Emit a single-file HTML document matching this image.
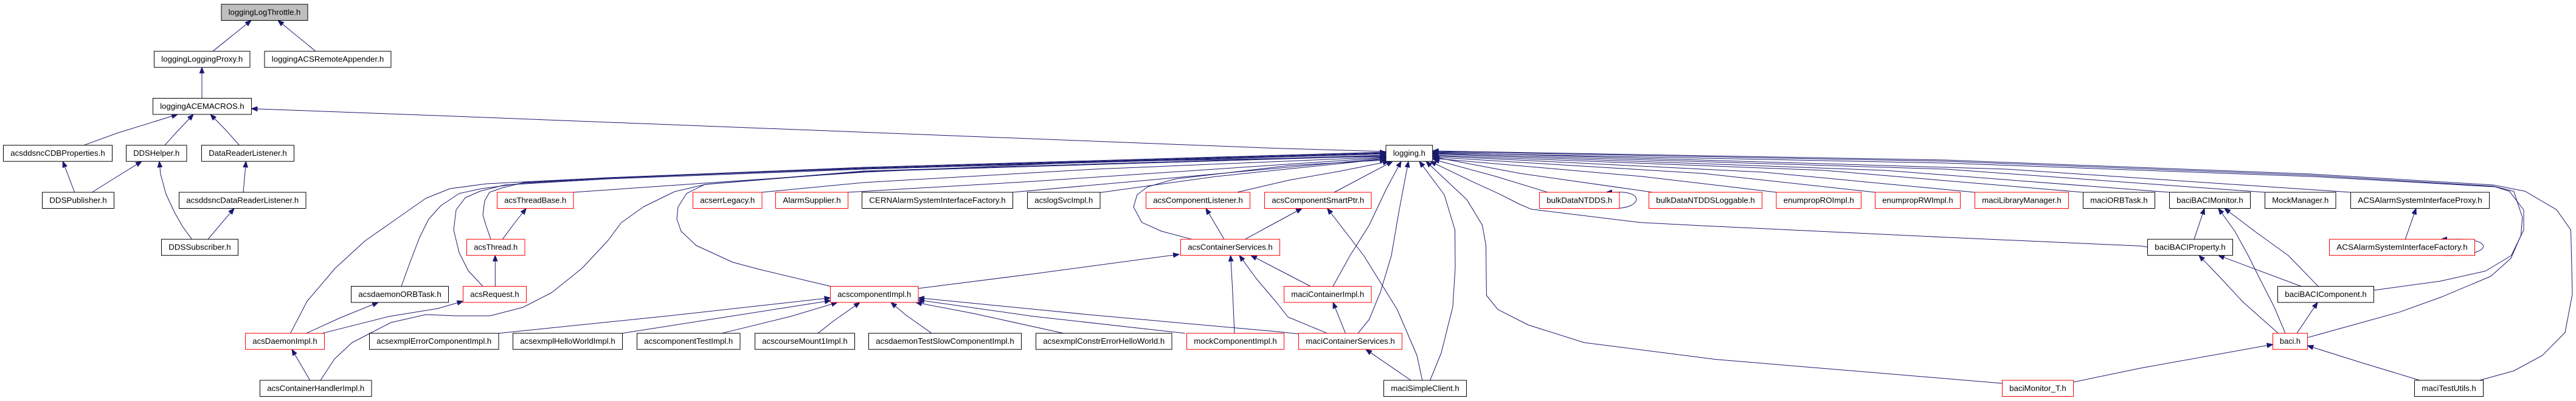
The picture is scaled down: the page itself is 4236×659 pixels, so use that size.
<!DOCTYPE html>
<html><head><meta charset="utf-8"><style>
html,body{margin:0;padding:0;background:#fff;}
svg{display:block;}
.e{fill:none;stroke:#191970;stroke-width:1;marker-end:url(#a);stroke-linejoin:round;}
.n{fill:#fff;stroke:#000;stroke-width:1;}
.r{fill:#fff;stroke:#ff0000;stroke-width:1;}
.g{fill:#bfbfbf;stroke:#000;stroke-width:1;}
text{font-family:"Liberation Sans",Arial,sans-serif;font-size:13px;fill:#000;text-anchor:middle;}
</style></head><body>
<svg width="4236" height="659" viewBox="0 0 4236 659" xmlns="http://www.w3.org/2000/svg">
<defs><marker id="a" markerUnits="userSpaceOnUse" markerWidth="12" markerHeight="10" refX="10" refY="4.5" orient="auto"><path d="M0.5,0.8 L10,4.5 L0.5,8.2 z" fill="#191970" stroke="#191970" stroke-width="1"/></marker></defs>
<rect width="4236" height="659" fill="#fff"/>
<!-- edges -->
<polyline class="e" points="350,84.2 413,33.5"/>
<polyline class="e" points="519,84.2 457,33.5"/>
<polyline class="e" points="332,161.5 332,110.7"/>
<polyline class="e" points="2279,249 2100,243.8 1400,216.5 720,190 413.5,178.6"/>
<polyline class="e" points="138,238.7 193,218.6 248,201.7 292,188"/>
<polyline class="e" points="271,238.7 289,218.6 318,188"/>
<polyline class="e" points="393.5,238.7 372,214.4 346,188"/>
<polyline class="e" points="122.6,316 103.3,265.2"/>
<polyline class="e" points="151.5,316 180,298 233,265.2"/>
<polyline class="e" points="315.5,393.2 300,372 287,349 273,319 264,286 262,265.2"/>
<polyline class="e" points="400,316 404.5,265.2"/>
<polyline class="e" points="342,393.2 385,342.5"/>
<polyline class="e" points="503.7,547.7 560,522 622,497"/>
<polyline class="e" points="509.7,625 480,574.2"/>
<polyline class="e" points="530,547.7 640,520 720,507 761.5,495"/>
<polyline class="e" points="814.3,470.5 814.3,419.7"/>
<polyline class="e" points="826.3,393.2 845,368 865.3,342.5"/>
<polyline class="e" points="477.6,547.7 505,495 551,441 600,396 643,366 700,326 740,310 800,302 1000,292 1420,275 2279,250"/>
<polyline class="e" points="660,470.5 675,429 690,390 705,360 725,338 755,318 792,310 860,301 1000,293 1420,276 2279,251"/>
<polyline class="e" points="527,625 550,590 579,563 643,530 700,517 750,519 806,519 860,505 907,481 957,441 1000,395 1021.5,366 1058,340 1109,315 1160,303 1420,282 2279,256"/>
<polyline class="e" points="794,470.5 770,445 755,415 746,378 750,345 765,325 790,314 830,304 1000,294 1420,278 2279,253"/>
<polyline class="e" points="807,393.2 799,370 794,353 797,330 805,316 825,309 861,300 1000,292 1420,277 2279,252"/>
<polyline class="e" points="943,316 1100,305 1420,283 1800,266 2279,257"/>
<polyline class="e" points="1365.4,470.5 1250,443 1205,431 1145,403.5 1120,380 1113,360 1115,340 1129,318 1159,303 1420,281 2279,255"/>
<polyline class="e" points="1253,316 1420,300 1800,278 2279,258"/>
<polyline class="e" points="1394,316 1700,298 2279,259"/>
<polyline class="e" points="1665,316 1900,295 2279,260"/>
<polyline class="e" points="1809,316.5 2000,290 2279,261"/>
<polyline class="e" points="1960,393.2 1910,380 1877.6,365.6 1864,340 1870,320 1887,307 1933,294 2120,272 2279,263"/>
<polyline class="e" points="2034,316 2120,296 2200,282 2284,265.2"/>
<polyline class="e" points="2194,316 2290,265.2"/>
<polyline class="e" points="2192,470.5 2220,420 2251.5,370 2280,310 2304,265.2"/>
<polyline class="e" points="2233,547.7 2251.5,525 2270,480 2288,420 2300,350 2316,265.2"/>
<polyline class="e" points="2351.6,625 2370,580 2389,504 2393,440 2392.5,378 2375,320 2334,265.2"/>
<polyline class="e" points="3292.5,630 2820,590.5 2605,563 2513,534 2463,508.6 2444.4,485.5 2443.5,403.5 2437.5,370 2412,328 2345,265.2"/>
<polyline class="e" points="820,547.7 1100,519 1365.5,489.5"/>
<polyline class="e" points="1023,547.7 1200,520 1366,494"/>
<polyline class="e" points="1187,547.7 1300,520 1377,497"/>
<polyline class="e" points="1345,547.7 1370,528 1414,497"/>
<polyline class="e" points="1532,547.7 1490,518 1465,497"/>
<polyline class="e" points="1749,547.7 1600,515 1506,497"/>
<polyline class="e" points="1948.7,547.7 1700,520 1510,493"/>
<polyline class="e" points="2135.5,548.7 2100,545 1800,518 1510,489.5"/>
<polyline class="e" points="1510,474 1700,450 1939,418"/>
<polyline class="e" points="2013,393.2 1983,342.5"/>
<polyline class="e" points="2047.5,393.2 2090,370 2141,342.5"/>
<polyline class="e" points="2030,547.7 2027,480 2023.6,419.7"/>
<polyline class="e" points="2155,470.5 2100,442 2057,419.7"/>
<polyline class="e" points="2182.6,547.7 2118,521 2100,498 2066,458 2038,419.7"/>
<polyline class="e" points="2212.5,547.7 2192,497"/>
<polyline class="e" points="2320,625 2246,574.2"/>
<polyline class="e" points="2338.8,625 2330,584 2297.5,508.5 2242.6,420 2182.6,342.5"/>
<polyline class="e" points="2545,316 2460,290 2357,262"/>
<polyline class="e" points="2717.6,316 2500,285 2357,258"/>
<polyline class="e" points="3531.5,406 3520,404.3 3200,390 2800,371 2697,365.6 2518,343.8 2499.5,336 2467,319.4 2421,298.4 2352,265.2"/>
<polyline class="e" points="2921,316 2700,290 2355.7,260"/>
<polyline class="e" points="3083,316 2800,285 2355.7,258"/>
<polyline class="e" points="3247,316 2900,283 2355.7,256"/>
<polyline class="e" points="3425,316 3000,280 2355.7,255"/>
<polyline class="e" points="3567,316 3100,280 2355.7,253"/>
<polyline class="e" points="3724,316 3200,278 2355.7,252"/>
<polyline class="e" points="3865,316 3300,278 2355.7,250"/>
<polyline class="e" points="3903.7,477 4013,462 4087,445.5 4129.5,420 4150,378 4150,345 4126.6,314.4 4103,307 3800,290 3200,268 2355.7,251"/>
<polyline class="e" points="3794.3,554.8 3946,512.8 4016,487.6 4096,454 4129,424.5 4145.5,386.7 4147.8,357 4133.7,314.4 4100,306 3800,288 3200,265 2355.7,249"/>
<polyline class="e" points="4077.4,625 4133.7,609.5 4180.6,584.2 4218,546.4 4230,483.4 4227.5,378 4204,344.6 4152.5,314.4 4100,304 3800,286 3200,263 2355.7,248"/>
<polyline class="e" points="3608,393.2 3625,342.5"/>
<polyline class="e" points="3812,470.5 3763,420 3711,382.5 3658,342.5"/>
<polyline class="e" points="3758,547.7 3740,505 3716,458 3697,420 3675,380 3648,342.5"/>
<polyline class="e" points="3784,470.5 3648,419.7"/>
<polyline class="e" points="3746.4,547.7 3688,496 3650,455 3616,419.7"/>
<polyline class="e" points="3777,547.7 3811,497"/>
<polyline class="e" points="3979,625 3880,595 3794.3,568"/>
<polyline class="e" points="3409.4,628 3520,605 3737.5,566"/>
<polyline class="e" points="3955.3,393.2 3973,342.5"/>
<path class="e" d="M2650,342.5 C2700,344 2704,315 2662,315.8 L2641,316"/>
<path class="e" d="M4020,419.7 C4100,421 4102,392 4040,393 L4014,393.2"/>
<!-- nodes -->
<rect class="g" x="364" y="7" width="142" height="26.5"/><text x="435" y="24.5" textLength="118.5" lengthAdjust="spacingAndGlyphs">loggingLogThrottle.h</text>
<rect class="n" x="253.5" y="84.2" width="157.5" height="26.5"/><text x="332.25" y="101.7" textLength="134" lengthAdjust="spacingAndGlyphs">loggingLoggingProxy.h</text>
<rect class="n" x="435" y="84.2" width="208" height="26.5"/><text x="539" y="101.7" textLength="184.5" lengthAdjust="spacingAndGlyphs">loggingACSRemoteAppender.h</text>
<rect class="n" x="251.5" y="161.5" width="162" height="26.5"/><text x="332.5" y="179" textLength="138.5" lengthAdjust="spacingAndGlyphs">loggingACEMACROS.h</text>
<rect class="n" x="5.5" y="238.7" width="179" height="26.5"/><text x="95" y="256.2" textLength="155.5" lengthAdjust="spacingAndGlyphs">acsddsncCDBProperties.h</text>
<rect class="n" x="207.5" y="238.7" width="99.5" height="26.5"/><text x="257.25" y="256.2" textLength="76" lengthAdjust="spacingAndGlyphs">DDSHelper.h</text>
<rect class="n" x="331.5" y="238.7" width="152" height="26.5"/><text x="407.5" y="256.2" textLength="128.5" lengthAdjust="spacingAndGlyphs">DataReaderListener.h</text>
<rect class="n" x="2279" y="238.7" width="76.7" height="26.5"/><text x="2317.35" y="256.2" textLength="53.2" lengthAdjust="spacingAndGlyphs">logging.h</text>
<rect class="n" x="69.5" y="316" width="118" height="26.5"/><text x="128.5" y="333.5" textLength="94.5" lengthAdjust="spacingAndGlyphs">DDSPublisher.h</text>
<rect class="n" x="294.5" y="316" width="208.5" height="26.5"/><text x="398.75" y="333.5" textLength="185" lengthAdjust="spacingAndGlyphs">acsddsncDataReaderListener.h</text>
<rect class="r" x="817.5" y="316" width="125.5" height="26.5"/><text x="880.25" y="333.5" textLength="102" lengthAdjust="spacingAndGlyphs">acsThreadBase.h</text>
<rect class="r" x="1139.5" y="316" width="113.5" height="26.5"/><text x="1196.25" y="333.5" textLength="90" lengthAdjust="spacingAndGlyphs">acserrLegacy.h</text>
<rect class="r" x="1275.5" y="316" width="119" height="26.5"/><text x="1335" y="333.5" textLength="95.5" lengthAdjust="spacingAndGlyphs">AlarmSupplier.h</text>
<rect class="n" x="1417.5" y="316" width="248" height="26.5"/><text x="1541.5" y="333.5" textLength="224.5" lengthAdjust="spacingAndGlyphs">CERNAlarmSystemInterfaceFactory.h</text>
<rect class="n" x="1689.5" y="316" width="119.5" height="26.5"/><text x="1749.25" y="333.5" textLength="96" lengthAdjust="spacingAndGlyphs">acslogSvcImpl.h</text>
<rect class="r" x="1884.5" y="316" width="171" height="26.5"/><text x="1970" y="333.5" textLength="147.5" lengthAdjust="spacingAndGlyphs">acsComponentListener.h</text>
<rect class="r" x="2079.5" y="316" width="175.5" height="26.5"/><text x="2167.25" y="333.5" textLength="152" lengthAdjust="spacingAndGlyphs">acsComponentSmartPtr.h</text>
<rect class="r" x="2531.5" y="316" width="131.5" height="26.5"/><text x="2597.25" y="333.5" textLength="108" lengthAdjust="spacingAndGlyphs">bulkDataNTDDS.h</text>
<rect class="r" x="2711.5" y="316" width="186" height="26.5"/><text x="2804.5" y="333.5" textLength="162.5" lengthAdjust="spacingAndGlyphs">bulkDataNTDDSLoggable.h</text>
<rect class="r" x="2921" y="316" width="139.5" height="26.5"/><text x="2990.75" y="333.5" textLength="116" lengthAdjust="spacingAndGlyphs">enumpropROImpl.h</text>
<rect class="r" x="3083.5" y="316" width="140" height="26.5"/><text x="3153.5" y="333.5" textLength="116.5" lengthAdjust="spacingAndGlyphs">enumpropRWImpl.h</text>
<rect class="r" x="3247.5" y="316" width="154" height="26.5"/><text x="3324.5" y="333.5" textLength="130.5" lengthAdjust="spacingAndGlyphs">maciLibraryManager.h</text>
<rect class="n" x="3425.5" y="316" width="118" height="26.5"/><text x="3484.5" y="333.5" textLength="94.5" lengthAdjust="spacingAndGlyphs">maciORBTask.h</text>
<rect class="n" x="3567.5" y="316" width="133" height="26.5"/><text x="3634" y="333.5" textLength="109.5" lengthAdjust="spacingAndGlyphs">baciBACIMonitor.h</text>
<rect class="n" x="3724.5" y="316" width="116.5" height="26.5"/><text x="3782.75" y="333.5" textLength="93" lengthAdjust="spacingAndGlyphs">MockManager.h</text>
<rect class="n" x="3865.5" y="316" width="228" height="26.5"/><text x="3979.5" y="333.5" textLength="204.5" lengthAdjust="spacingAndGlyphs">ACSAlarmSystemInterfaceProxy.h</text>
<rect class="n" x="265.5" y="393.2" width="126" height="26.5"/><text x="328.5" y="410.7" textLength="102.5" lengthAdjust="spacingAndGlyphs">DDSSubscriber.h</text>
<rect class="r" x="767.5" y="393.2" width="95.5" height="26.5"/><text x="815.25" y="410.7" textLength="72" lengthAdjust="spacingAndGlyphs">acsThread.h</text>
<rect class="r" x="1941.5" y="393.2" width="163" height="26.5"/><text x="2023" y="410.7" textLength="139.5" lengthAdjust="spacingAndGlyphs">acsContainerServices.h</text>
<rect class="n" x="3531.5" y="393.2" width="140" height="26.5"/><text x="3601.5" y="410.7" textLength="116.5" lengthAdjust="spacingAndGlyphs">baciBACIProperty.h</text>
<rect class="r" x="3830.5" y="393.2" width="239" height="26.5"/><text x="3950" y="410.7" textLength="215.5" lengthAdjust="spacingAndGlyphs">ACSAlarmSystemInterfaceFactory.h</text>
<rect class="n" x="577.5" y="470.5" width="160" height="26.5"/><text x="657.5" y="488" textLength="136.5" lengthAdjust="spacingAndGlyphs">acsdaemonORBTask.h</text>
<rect class="r" x="761.5" y="470.5" width="104" height="26.5"/><text x="813.5" y="488" textLength="80.5" lengthAdjust="spacingAndGlyphs">acsRequest.h</text>
<rect class="r" x="1365.5" y="470.5" width="144.5" height="26.5"/><text x="1437.75" y="488" textLength="121" lengthAdjust="spacingAndGlyphs">acscomponentImpl.h</text>
<rect class="r" x="2111.5" y="470.5" width="143.5" height="26.5"/><text x="2183.25" y="488" textLength="120" lengthAdjust="spacingAndGlyphs">maciContainerImpl.h</text>
<rect class="n" x="3745.5" y="470.5" width="158" height="26.5"/><text x="3824.5" y="488" textLength="134.5" lengthAdjust="spacingAndGlyphs">baciBACIComponent.h</text>
<rect class="r" x="403.5" y="547.7" width="130" height="26.5"/><text x="468.5" y="565.2" textLength="106.5" lengthAdjust="spacingAndGlyphs">acsDaemonImpl.h</text>
<rect class="n" x="607.5" y="547.7" width="212.5" height="26.5"/><text x="713.75" y="565.2" textLength="189" lengthAdjust="spacingAndGlyphs">acsexmplErrorComponentImpl.h</text>
<rect class="n" x="843.5" y="547.7" width="180" height="26.5"/><text x="933.5" y="565.2" textLength="156.5" lengthAdjust="spacingAndGlyphs">acsexmplHelloWorldImpl.h</text>
<rect class="n" x="1047.5" y="547.7" width="169.5" height="26.5"/><text x="1132.25" y="565.2" textLength="146" lengthAdjust="spacingAndGlyphs">acscomponentTestImpl.h</text>
<rect class="n" x="1241.5" y="547.7" width="164" height="26.5"/><text x="1323.5" y="565.2" textLength="140.5" lengthAdjust="spacingAndGlyphs">acscourseMount1Impl.h</text>
<rect class="n" x="1428.5" y="547.7" width="251" height="26.5"/><text x="1554" y="565.2" textLength="227.5" lengthAdjust="spacingAndGlyphs">acsdaemonTestSlowComponentImpl.h</text>
<rect class="n" x="1703.5" y="547.7" width="223.5" height="26.5"/><text x="1815.25" y="565.2" textLength="200" lengthAdjust="spacingAndGlyphs">acsexmplConstrErrorHelloWorld.h</text>
<rect class="r" x="1951.5" y="547.7" width="160" height="26.5"/><text x="2031.5" y="565.2" textLength="136.5" lengthAdjust="spacingAndGlyphs">mockComponentImpl.h</text>
<rect class="r" x="2135.5" y="547.7" width="170" height="26.5"/><text x="2220.5" y="565.2" textLength="146.5" lengthAdjust="spacingAndGlyphs">maciContainerServices.h</text>
<rect class="r" x="3737.5" y="547.7" width="57" height="26.5"/><text x="3766" y="565.2" textLength="34" lengthAdjust="spacingAndGlyphs">baci.h</text>
<rect class="n" x="427.5" y="625" width="183.5" height="26.5"/><text x="519.25" y="642.5" textLength="160" lengthAdjust="spacingAndGlyphs">acsContainerHandlerImpl.h</text>
<rect class="n" x="2275.5" y="625" width="136" height="26.5"/><text x="2343.5" y="642.5" textLength="112.5" lengthAdjust="spacingAndGlyphs">maciSimpleClient.h</text>
<rect class="r" x="3292.5" y="625" width="117" height="26.5"/><text x="3351" y="642.5" textLength="93.5" lengthAdjust="spacingAndGlyphs">baciMonitor_T.h</text>
<rect class="n" x="3970.5" y="625" width="113" height="26.5"/><text x="4027" y="642.5" textLength="89.5" lengthAdjust="spacingAndGlyphs">maciTestUtils.h</text>
</svg>
</body></html>
